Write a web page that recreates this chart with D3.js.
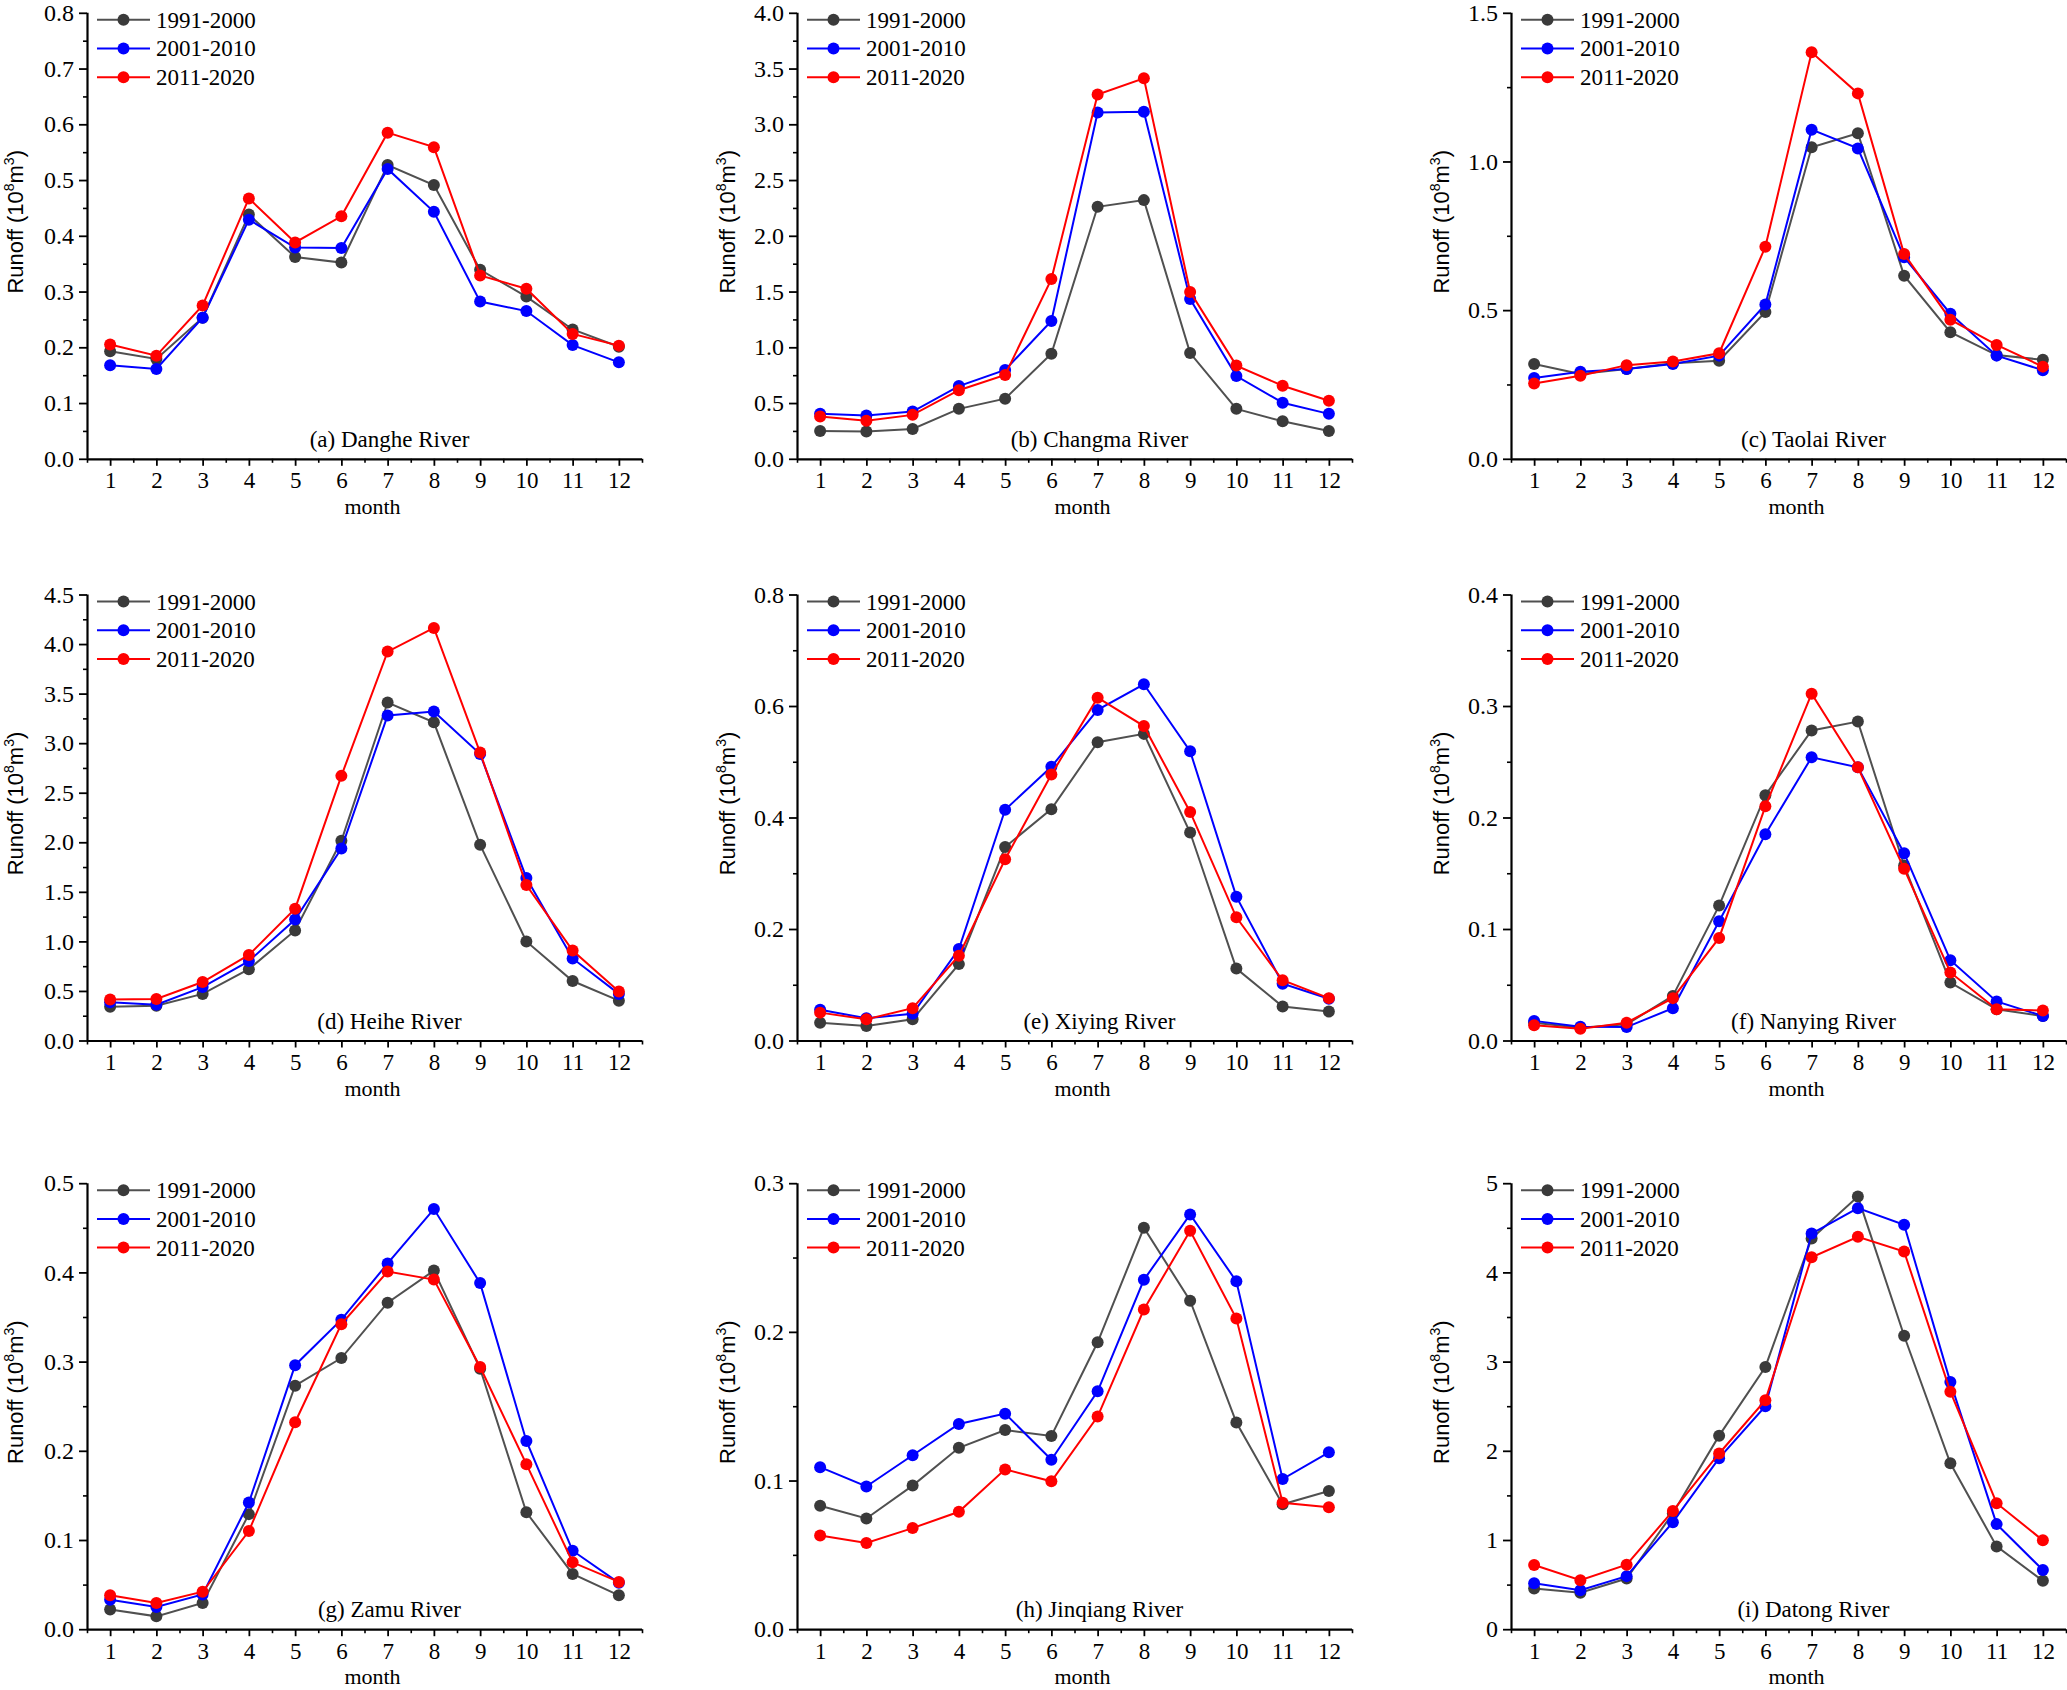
<!DOCTYPE html>
<html>
<head>
<meta charset="utf-8">
<script src="https://cdn.jsdelivr.net/npm/d3@7"></script>
<style>
  html, body { margin: 0; padding: 0; background: #fff; }
  svg { display: block; }
</style>
</head>
<body>
<svg id="chart" width="2067" height="1690"></svg>
<script>
// ---------------- DATA ----------------
const months = [1, 2, 3, 4, 5, 6, 7, 8, 9, 10, 11, 12];
const periods = ["1991-2000", "2001-2010", "2011-2020"];
const riverLabels = ["(a) Danghe River", "(b) Changma River", "(c) Taolai River",
                     "(d) Heihe River", "(e) Xiying River", "(f) Nanying River",
                     "(g) Zamu River", "(h) Jinqiang River", "(i) Datong River"];

// each river: [1991-2000, 2001-2010, 2011-2020]
const danghe = [
  [0.193, 0.179, 0.253, 0.438, 0.362, 0.352, 0.527, 0.491, 0.339, 0.291, 0.232, 0.201],
  [0.168, 0.161, 0.253, 0.429, 0.379, 0.378, 0.520, 0.443, 0.282, 0.265, 0.204, 0.173],
  [0.205, 0.185, 0.275, 0.467, 0.388, 0.435, 0.585, 0.559, 0.329, 0.305, 0.224, 0.203]
];
const changma = [
  [0.250, 0.245, 0.267, 0.448, 0.539, 0.942, 2.260, 2.320, 0.948, 0.448, 0.336, 0.250],
  [0.403, 0.388, 0.424, 0.652, 0.797, 1.236, 3.106, 3.112, 1.433, 0.742, 0.503, 0.403],
  [0.379, 0.342, 0.394, 0.615, 0.752, 1.612, 3.267, 3.412, 1.497, 0.836, 0.655, 0.521]
];
const taolai = [
  [0.319, 0.285, 0.302, 0.321, 0.330, 0.494, 1.048, 1.095, 0.616, 0.426, 0.349, 0.333],
  [0.272, 0.293, 0.302, 0.319, 0.347, 0.519, 1.107, 1.044, 0.678, 0.488, 0.347, 0.298],
  [0.253, 0.279, 0.315, 0.327, 0.355, 0.713, 1.367, 1.229, 0.689, 0.468, 0.383, 0.310]
];
const heihe = [
  [0.341, 0.351, 0.470, 0.720, 1.110, 2.015, 3.410, 3.210, 1.974, 0.999, 0.600, 0.402],
  [0.385, 0.361, 0.539, 0.801, 1.220, 1.937, 3.280, 3.320, 2.890, 1.640, 0.828, 0.470],
  [0.413, 0.419, 0.590, 0.863, 1.330, 2.670, 3.924, 4.163, 2.905, 1.568, 0.907, 0.494]
];
const xiying = [
  [0.032, 0.026, 0.038, 0.137, 0.347, 0.415, 0.535, 0.550, 0.373, 0.129, 0.061, 0.052],
  [0.055, 0.040, 0.048, 0.164, 0.414, 0.491, 0.593, 0.639, 0.519, 0.258, 0.102, 0.075],
  [0.050, 0.038, 0.058, 0.152, 0.325, 0.477, 0.615, 0.564, 0.410, 0.221, 0.108, 0.076]
];
const nanying = [
  [0.016, 0.0115, 0.0145, 0.040, 0.121, 0.220, 0.278, 0.286, 0.157, 0.052, 0.028, 0.022],
  [0.0176, 0.0124, 0.012, 0.029, 0.107, 0.185, 0.254, 0.245, 0.168, 0.072, 0.035, 0.022],
  [0.0136, 0.0106, 0.016, 0.038, 0.092, 0.210, 0.311, 0.245, 0.154, 0.061, 0.028, 0.027]
];
const zamu = [
  [0.022, 0.0144, 0.0295, 0.129, 0.273, 0.304, 0.366, 0.402, 0.292, 0.131, 0.062, 0.038],
  [0.033, 0.025, 0.039, 0.142, 0.296, 0.347, 0.410, 0.471, 0.388, 0.211, 0.088, 0.052],
  [0.038, 0.0295, 0.042, 0.110, 0.232, 0.342, 0.401, 0.392, 0.294, 0.185, 0.075, 0.053]
];
const jinqiang = [
  [0.083, 0.0745, 0.0966, 0.122, 0.134, 0.130, 0.193, 0.270, 0.221, 0.139, 0.084, 0.093],
  [0.109, 0.096, 0.117, 0.138, 0.145, 0.114, 0.160, 0.235, 0.279, 0.234, 0.101, 0.119],
  [0.063, 0.058, 0.068, 0.079, 0.1075, 0.0995, 0.143, 0.215, 0.268, 0.209, 0.085, 0.082]
];
const datong = [
  [0.455, 0.409, 0.568, 1.300, 2.170, 2.940, 4.380, 4.850, 3.290, 1.860, 0.928, 0.542],
  [0.515, 0.436, 0.595, 1.200, 1.917, 2.500, 4.435, 4.720, 4.534, 2.770, 1.178, 0.663],
  [0.720, 0.549, 0.723, 1.326, 1.970, 2.568, 4.170, 4.400, 4.235, 2.663, 1.413, 0.996]
];
const riverData = [danghe, changma, taolai, heihe, xiying, nanying, zamu, jinqiang, datong];

// y-axis ranges and tick steps
const yMax  = [0.8, 4.0, 1.5, 4.5, 0.8, 0.4, 0.5, 0.3, 5];
const yStep = [0.1, 0.5, 0.5, 0.5, 0.2, 0.1, 0.1, 0.1, 1];
const yDecimals = [1, 1, 1, 1, 1, 1, 1, 1, 0];

// ---------------- STYLE / LAYOUT ----------------
const lineColors   = ["#505050", "#0000ff", "#ff0000"];
const markerColors = ["#3a3a3a", "#0000ff", "#ff0000"];
const colX = [87, 797, 1511];
const rowY = [12.8, 594.5, 1183.2];
const plotW = 555, plotH = 446;
const serif = "'Liberation Serif', 'Times New Roman', serif";
const sans  = "'Liberation Sans', Arial, sans-serif";

const svg = d3.select("#chart");

riverData.forEach((series, i) => {
  const col = i % 3, row = Math.floor(i / 3);
  const g = svg.append("g").attr("transform", `translate(${colX[col]},${rowY[row]})`);

  const x = d3.scaleLinear().domain([0.5, 12.5]).range([0, plotW]);
  const y = d3.scaleLinear().domain([0, yMax[i]]).range([plotH, 0]);

  const nMajor = Math.round(yMax[i] / yStep[i]);
  const majorY = d3.range(nMajor + 1).map(k => +(k * yStep[i]).toFixed(4));
  const minorY = d3.range(nMajor).map(k => +((k + 0.5) * yStep[i]).toFixed(4));

  // y minor ticks
  g.append("g")
    .call(d3.axisLeft(y).tickValues(minorY).tickSize(4).tickFormat(""))
    .call(a => a.select(".domain").remove())
    .selectAll("line").attr("stroke", "#000").attr("stroke-width", 1.6);

  // y major axis
  const yAx = g.append("g")
    .call(d3.axisLeft(y).tickValues(majorY).tickSize(8).tickPadding(5)
      .tickFormat(d3.format(`.${yDecimals[i]}f`)));
  yAx.select(".domain").attr("stroke", "#000").attr("stroke-width", 2.2)
    .attr("d", `M0.5,${plotH}V0`);
  yAx.selectAll(".tick line").attr("stroke", "#000").attr("stroke-width", 1.8);
  yAx.selectAll(".tick text").attr("font-family", serif).attr("font-size", 24).attr("fill", "#000");

  // x minor ticks
  g.append("g").attr("transform", `translate(0,${plotH})`)
    .call(d3.axisBottom(x).tickValues(d3.range(0.5, 13, 1)).tickSize(4).tickFormat(""))
    .call(a => a.select(".domain").remove())
    .selectAll("line").attr("stroke", "#000").attr("stroke-width", 1.6);

  // x major axis
  const xAx = g.append("g").attr("transform", `translate(0,${plotH})`)
    .call(d3.axisBottom(x).tickValues(months).tickSize(7).tickPadding(6).tickFormat(d3.format("d")));
  xAx.select(".domain").attr("stroke", "#000").attr("stroke-width", 2.2)
    .attr("d", `M0,0.5H${plotW}`);
  xAx.selectAll(".tick line").attr("stroke", "#000").attr("stroke-width", 1.8);
  xAx.selectAll(".tick text").attr("font-family", serif).attr("font-size", 23).attr("fill", "#000");

  // x axis title
  g.append("text")
    .attr("x", plotW / 2 + 8).attr("y", plotH + 55)
    .attr("text-anchor", "middle")
    .attr("font-family", serif).attr("font-size", 22).attr("fill", "#000")
    .text("month");

  // y axis title
  const yl = g.append("text")
    .attr("transform", `translate(${col === 0 ? -64 : -62},${plotH / 2 - 14}) rotate(-90)`)
    .attr("text-anchor", "middle")
    .attr("font-family", sans).attr("font-size", 22).attr("fill", "#000");
  yl.append("tspan").text("Runoff (10");
  yl.append("tspan").attr("font-size", 14).attr("dy", -9).text("8");
  yl.append("tspan").attr("dy", 9).text("m");
  yl.append("tspan").attr("font-size", 14).attr("dy", -9).text("3");
  yl.append("tspan").attr("dy", 9).text(")");

  // river label
  g.append("text")
    .attr("x", plotW * 0.545).attr("y", plotH - 12)
    .attr("text-anchor", "middle")
    .attr("font-family", serif).attr("font-size", 23).attr("fill", "#000")
    .text(riverLabels[i]);

  // series
  const line = d3.line().x((d, k) => x(months[k])).y(d => y(d));
  series.forEach((vals, s) => {
    g.append("path").datum(vals)
      .attr("d", line).attr("fill", "none")
      .attr("stroke", lineColors[s]).attr("stroke-width", 2);
    g.selectAll(null).data(vals).enter().append("circle")
      .attr("cx", (d, k) => x(months[k])).attr("cy", d => y(d))
      .attr("r", 6).attr("fill", markerColors[s]);
  });

  // legend
  const lg = g.append("g").attr("transform", "translate(10,7)");
  periods.forEach((p, s) => {
    const ly = s * 28.7;
    lg.append("line").attr("x1", 0).attr("x2", 53).attr("y1", ly).attr("y2", ly)
      .attr("stroke", lineColors[s]).attr("stroke-width", 2);
    lg.append("circle").attr("cx", 26.5).attr("cy", ly).attr("r", 6).attr("fill", markerColors[s]);
    lg.append("text").attr("x", 59).attr("y", ly + 8)
      .attr("font-family", serif).attr("font-size", 23).attr("fill", "#000")
      .text(p);
  });
});
</script>
</body>
</html>
